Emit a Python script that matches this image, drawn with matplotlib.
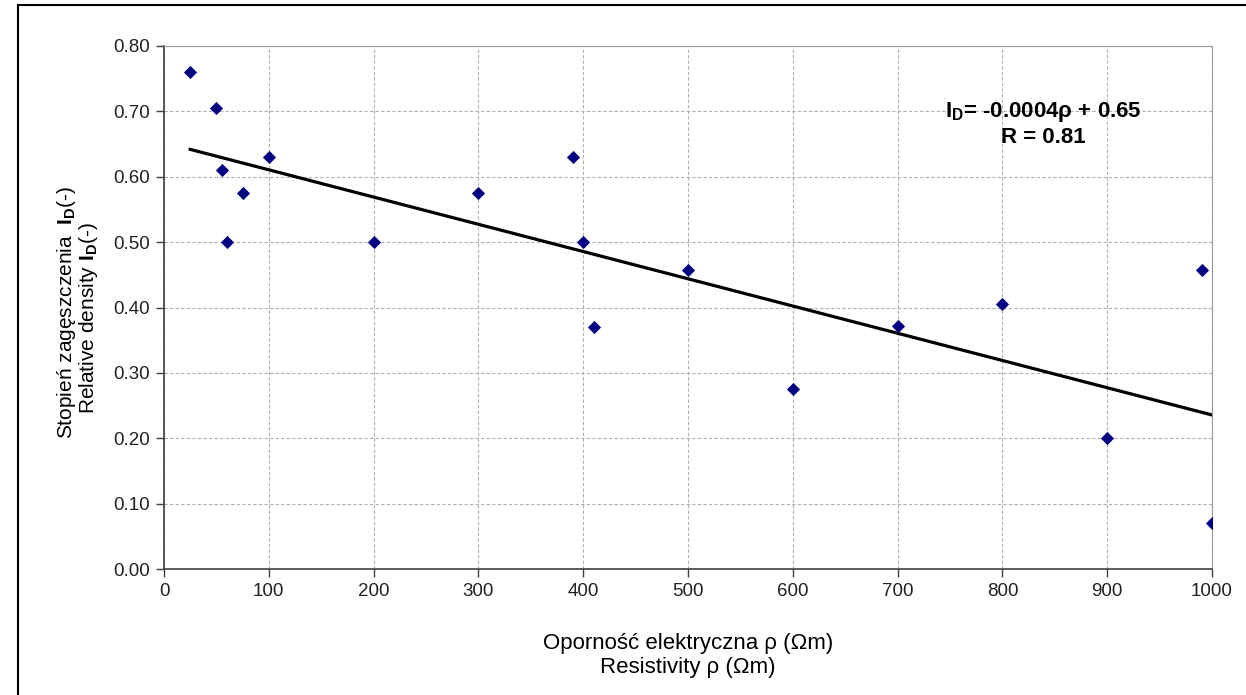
import matplotlib.pyplot as plt
import matplotlib.patches as patches
import numpy as np

plt.rcParams['font.family'] = ['Liberation Sans', 'DejaVu Sans']
plt.rcParams['mathtext.fontset'] = 'custom'
plt.rcParams['mathtext.rm'] = 'Liberation Sans'
plt.rcParams['mathtext.bf'] = 'Liberation Sans:bold'

# resistivity (Ohm m) and relative density I_D
rho = [25, 50, 55, 60, 75, 100, 200, 300, 390, 400, 410, 500,
       600, 700, 800, 900, 990, 1000]
ID = [0.76, 0.705, 0.61, 0.50, 0.575, 0.63, 0.50, 0.575, 0.63, 0.50, 0.37, 0.458,
      0.276, 0.371, 0.405, 0.20, 0.458, 0.07]

xticks = [0, 100, 200, 300, 400, 500, 600, 700, 800, 900, 1000]
yticks = [0.0, 0.1, 0.2, 0.3, 0.4, 0.5, 0.6, 0.7, 0.8]

fig = plt.figure(figsize=(12.46, 6.95), dpi=100)
ax = fig.add_axes([164/1246, 1 - 569/695, (1212-164)/1246, (569-46)/695])

# outer chart frame (cut off at right and bottom like the source)
fig.patches.append(patches.Rectangle((18/1246, -0.1), 2, 1 - 5/695 + 0.1,
                                     transform=fig.transFigure, fill=False,
                                     edgecolor='black', linewidth=1.5))

ax.scatter(rho, ID, marker='D', s=45, color='#000080', zorder=3, linewidths=0)

# linear trend line
a, b = np.polyfit(rho, ID, 1)
xs = np.array([min(rho), max(rho)])
ax.plot(xs, a*xs + b, color='black', linewidth=2.3, zorder=2)

ax.set_xlim(0, 1000)
ax.set_ylim(0, 0.8)
ax.set_xticks(xticks)
ax.set_yticks(yticks)
ax.set_yticklabels(['%.2f' % v for v in yticks])
ax.tick_params(direction='out', length=6, width=1, color='#404040',
               labelsize=13.5, labelcolor='#222222', pad=4)
ax.grid(True, color='#b0b0b0', linestyle=(0, (3, 2)), linewidth=0.8)
ax.set_axisbelow(True)
for s in ['top', 'right']:
    ax.spines[s].set_color('#9a9a9a')
for s in ['left', 'bottom']:
    ax.spines[s].set_color('#404040')
    ax.spines[s].set_linewidth(1.2)

ax.text(0.839, 0.874, r'I$_{\mathregular{D}}$= -0.0004$\mathregular{\rho}$ + 0.65',
        transform=ax.transAxes, ha='center', va='center',
        fontsize=16, fontweight='bold')
ax.text(0.839, 0.826, 'R = 0.81', transform=ax.transAxes, ha='center',
        va='center', fontsize=16, fontweight='bold')

fig.text(688/1246, 1 - 643/695, 'Oporność elektryczna ρ (Ωm)', ha='center',
         va='center', fontsize=16)
fig.text(688/1246, 1 - 668/695, 'Resistivity ρ (Ωm)', ha='center',
         va='center', fontsize=16)

fig.text(66/1246, 1 - 312/695,
         r'Stopień zagęszczenia  $\mathbf{I_D}$(-)', rotation=90,
         ha='center', va='center', fontsize=15)
fig.text(88/1246, 1 - 318/695,
         r'Relative density $\mathbf{I_D}$(-)', rotation=90,
         ha='center', va='center', fontsize=15)

fig.savefig('out.png', dpi=100)
